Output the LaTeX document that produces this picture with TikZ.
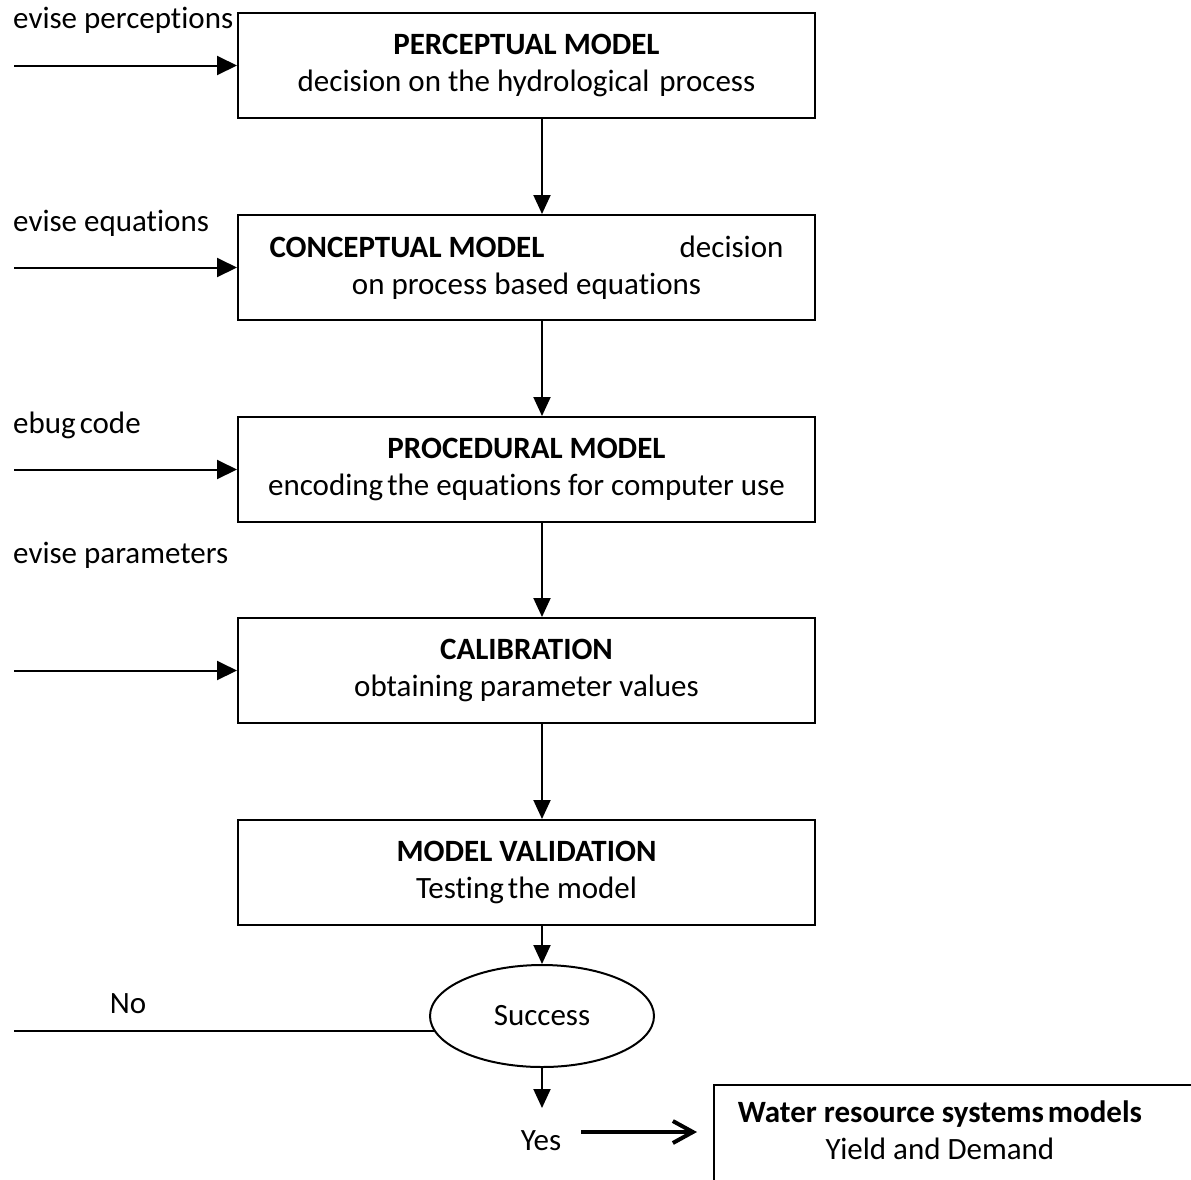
\documentclass[tikz,border=0pt]{standalone}
\usepackage{fontspec}
\setmainfont{Carlito}[Ligatures=NoCommon]
\usetikzlibrary{arrows.meta,shapes.geometric}
\begin{document}
\begin{tikzpicture}[x=1pt,y=-1pt,
  every node/.style={font=\fontsize{31}{36.6}\selectfont, inner sep=0pt},
  stagebox/.style={draw, line width=2pt, minimum width=577pt, minimum height=105pt, align=center},
  flow/.style={line width=2pt, -{Triangle[length=19pt,width=17pt]}},
  feed/.style={line width=2pt, -{Triangle[length=20pt,width=19pt]}},
  lbl/.style={anchor=base west},
]
\useasboundingbox (0,0) rectangle (1191,1179);
\clip (0,0) rectangle (1191,1179);

% modelling stages
\node[stagebox] (perc) at (526.5,65.5) {\textbf{PERCEPTUAL MODEL}\\decision on the hydrological\hspace{10pt}process};
\node[stagebox] (conc) at (526.5,267.5) {\makebox[514pt]{\textbf{CONCEPTUAL MODEL}\hfill decision}\\on process based equations};
\node[stagebox] (proc) at (526.5,469.5) {\textbf{PROCEDURAL MODEL}\\encoding\hspace{4pt}the equations for computer use};
\node[stagebox] (cal) at (526.5,670.5) {\textbf{CALIBRATION}\\obtaining parameter values};
\node[stagebox] (val) at (526.5,872.5) {\textbf{MODEL VALIDATION}\\Testing\hspace{4pt}the model};
\node[draw, ellipse, line width=2pt, minimum width=224pt, minimum height=102pt] (succ) at (542,1016) {Success};

% downstream model
\node[draw, line width=1.5pt, anchor=north west, minimum width=540pt, minimum height=140pt] (wr) at (713,1084) {};
\node[align=center] (wrt) at (940,1130) {\textbf{Water resource systems\hspace{4pt}models}\\Yield and Demand};

% main flow
\coordinate (axis) at (542,0);
\draw[flow] (perc.south -| axis) -- (conc.north -| axis);
\draw[flow] (conc.south -| axis) -- (proc.north -| axis);
\draw[flow] (proc.south -| axis) -- (cal.north -| axis);
\draw[flow] (cal.south -| axis) -- (val.north -| axis);
\draw[flow] (val.south -| axis) -- (succ.north);
\coordinate (yesend) at (542,1108);
\draw[flow] (succ.south) -- (yesend);
\node (yes) at (541,1141) {Yes};
\draw[line width=4pt, -{Straight Barb[length=20pt,width=22pt]}]
  ([xshift=20pt,yshift=9pt]yes.east) -- ([xshift=-16pt,yshift=9pt]wr.west |- yes.east);

% feedback inputs
\coordinate (fbx) at (14,0);
\draw[feed] (perc.west -| fbx) -- (perc.west);
\draw[feed] (conc.west -| fbx) -- (conc.west);
\draw[feed] (proc.west -| fbx) -- (proc.west);
\draw[feed] (cal.west -| fbx) -- (cal.west);
\node[lbl] (rperc) at (13,28) {evise perceptions};
\node[lbl] (requ) at (13,231) {evise equations};
\node[lbl] (dbug) at (13,433) {ebug\hspace{4pt}code};
\node[lbl] (rpar) at (13,563) {evise parameters};

% failure branch
\node (no) at (128,1004) {No};
\draw[line width=2pt] (succ.188.6 -| fbx) -- (succ.188.6);
\end{tikzpicture}
\end{document}
